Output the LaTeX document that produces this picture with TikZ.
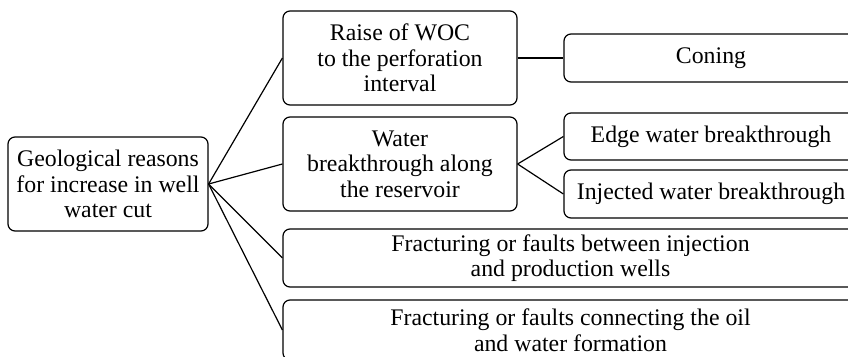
\documentclass[tikz,border=0pt]{standalone}
\usepackage{fontspec}
\setmainfont{Liberation Serif}
\begin{document}
\begin{tikzpicture}[x=1pt,y=-1pt,
  box/.style={draw, line width=1.2pt, rounded corners=7pt, inner sep=0pt, align=center,
    font=\fontsize{23.8}{25.5}\selectfont},
  link/.style={line width=1.2pt}]
\useasboundingbox (0,0) rectangle (848,356);
\clip (0,0) rectangle (848,356);
\node[box, minimum width=200pt, minimum height=94pt] (root) at (108,184) {Geological reasons\\for increase in well\\water cut};
\node[box, minimum width=234pt, minimum height=94pt] (raise) at (400,58) {Raise of WOC\\to the perforation\\interval};
\node[box, minimum width=294pt, minimum height=48pt] (coning) at (711,58) {Coning};
\node[box, minimum width=234pt, minimum height=94pt] (water) at (400,164) {Water\\breakthrough along\\the reservoir};
\node[box, minimum width=294pt, minimum height=47pt] (edge) at (711,136.5) {Edge water breakthrough};
\node[box, minimum width=294pt, minimum height=48pt] (inj) at (711,194) {Injected water breakthrough};
\node[box, minimum width=575pt, minimum height=58pt] (frac1) at (570.5,258) {Fracturing or faults between injection\\and production wells};
\node[box, minimum width=575pt, minimum height=60pt] (frac2) at (570.5,330) {Fracturing or faults connecting the oil\\and water formation};
\draw[link] (root.east) -- (raise.west);
\draw[link] (root.east) -- (water.west);
\draw[link] (root.east) -- (frac1.west);
\draw[link] (root.east) -- (frac2.west);
\draw[link] (raise.east) -- (coning.west);
\draw[link] (water.east) -- (edge.west);
\draw[link] (water.east) -- (inj.west);
\end{tikzpicture}
\end{document}
